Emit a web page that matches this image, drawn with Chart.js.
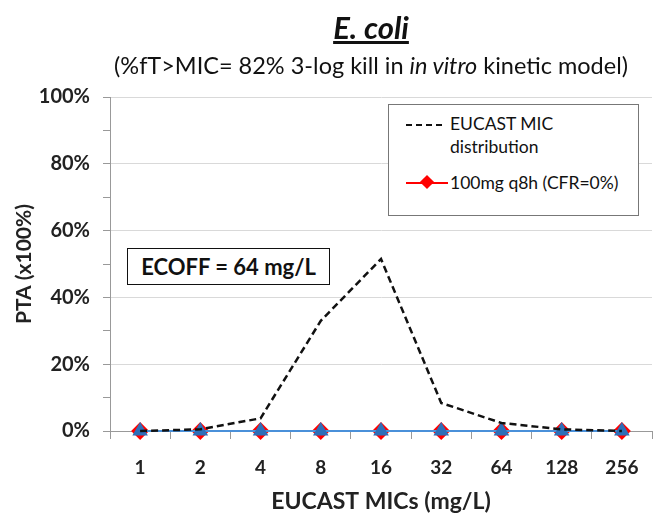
<!DOCTYPE html>
<html>
<head>
<meta charset="utf-8">
<script src="https://cdn.jsdelivr.net/npm/chart.js@4"></script>
<style>
  body { margin: 0; background: #fff; font-family: Lato, "Open Sans", sans-serif; }
  #wrap { position: relative; width: 672px; height: 519px; }
  #title { position: absolute; left: 0; width: 742px; top: 8px; text-align: center;
    font-size: 31px; font-weight: bold; font-style: italic; text-decoration: underline; color: #111; }
  #sub { position: absolute; left: 0; width: 742px; top: 51px; text-align: center;
    font-size: 23.5px; color: #111; }
  #leg { position: absolute; left: 388px; top: 104px; width: 249px; height: 110px;
    border: 1px solid #777; background: #fff; font-size: 17.5px; color: #111; }
  #ecoff { position: absolute; left: 127px; top: 248px; width: 201px; height: 35px;
    border: 1.5px solid #111; background: #fff; font-size: 22px; font-weight: bold;
    line-height: 35px; text-align: center; color: #111; }
</style>
</head>
<body>
<div id="wrap">
  <canvas id="myChart" width="672" height="519"></canvas>
  <div id="title">E. coli</div>
  <div id="sub">(%fT&gt;MIC= 82% 3-log kill in <i>in vitro</i> kinetic model)</div>
  <div id="leg">
    <div style="position:absolute;left:17px;top:19px;width:36px;border-top:2px dashed #111;"></div>
    <div style="position:absolute;left:61px;top:7px;line-height:23px;">EUCAST MIC<br>distribution</div>
    <div style="position:absolute;left:17px;top:77px;width:42px;border-top:2px solid #f00;"></div>
    <div style="position:absolute;left:33px;top:72px;width:10px;height:10px;background:#f00;transform:rotate(45deg);"></div>
    <div style="position:absolute;left:61px;top:66px;line-height:23px;">100mg q8h (CFR=0%)</div>
  </div>
  <div id="ecoff">ECOFF = 64 mg/L</div>
</div>
<script>
// MIC categories
var mic_labels = ['1', '2', '4', '8', '16', '32', '64', '128', '256'];
// EUCAST MIC distribution (%)
var eucast_dist = [0, 0.5, 3.8, 33, 51.5, 8.4, 2.4, 0.5, 0];
// PTA 100mg q8h (%)
var pta_q8h = [0, 0, 0, 0, 0, 0, 0, 0, 0];
// second PTA series (blue, not in legend)
var pta_blue = [0, 0, 0, 0, 0, 0, 0, 0, 0];

var fontFam = 'Lato, "Open Sans", sans-serif';

const ctx = document.getElementById('myChart').getContext('2d');
const myChart = new Chart(ctx, {
	type: 'line',
	data: {
		labels: mic_labels,
		datasets: [{
			label: 'EUCAST MIC distribution',
			data: eucast_dist,
			borderColor: '#111',
			borderWidth: 2.5,
			borderDash: [7, 4],
			pointRadius: 0,
			tension: 0,
			clip: false
		}, {
			label: 'blue',
			data: pta_blue,
			borderColor: '#4a90d9',
			backgroundColor: '#2e6fb8',
			borderWidth: 2,
			pointStyle: 'triangle',
			pointRadius: 9,
			pointBorderWidth: 0,
			clip: false
		}, {
			label: '100mg q8h (CFR=0%)',
			data: pta_q8h,
			borderColor: '#ff0000',
			backgroundColor: '#ff0000',
			borderWidth: 2,
			pointStyle: 'rectRot',
			pointRadius: 9,
			pointBorderWidth: 0,
			clip: false
		}]
	},
	options: {
		responsive: false,
		animation: false,
		layout: { padding: { top: 97, right: 20, left: 0, bottom: 0 } },
		plugins: {
			legend: { display: false },
			tooltip: { enabled: false }
		},
		scales: {
			x: {
				offset: true,
				afterFit: function (s) { s.height = 88; },
				grid: {
					offset: true,
					drawOnChartArea: false,
					tickLength: 8,
					color: '#999'
				},
				border: { color: '#999' },
				ticks: {
					color: '#222',
					padding: 17,
					font: { family: fontFam, size: 19, weight: 'bold' }
				},
				title: {
					display: true,
					text: 'EUCAST MICs (mg/L)',
					color: '#222',
					padding: { top: 0 },
					font: { family: fontFam, size: 23, weight: 'bold' }
				}
			},
			y: {
				min: 0,
				max: 100,
				afterFit: function (s) { s.width = 110; },
				grid: {
					color: function (c) { return c.tick && c.tick.value % 20 == 0 ? '#d9d9d9' : 'rgba(0,0,0,0)'; },
					tickColor: '#999',
					tickLength: 7
				},
				border: { color: '#999' },
				ticks: {
					stepSize: 10,
					color: '#222',
					padding: 13,
					font: { family: fontFam, size: 20, weight: 'bold' },
					callback: function (v) { return v % 20 == 0 ? v + '%' : ''; }
				},
				title: {
					display: true,
					text: 'PTA (x100%)',
					color: '#222',
					padding: { top: 12, bottom: 0 },
					font: { family: fontFam, size: 21, weight: 'bold' }
				}
			}
		}
	}
});
</script>
</body>
</html>
